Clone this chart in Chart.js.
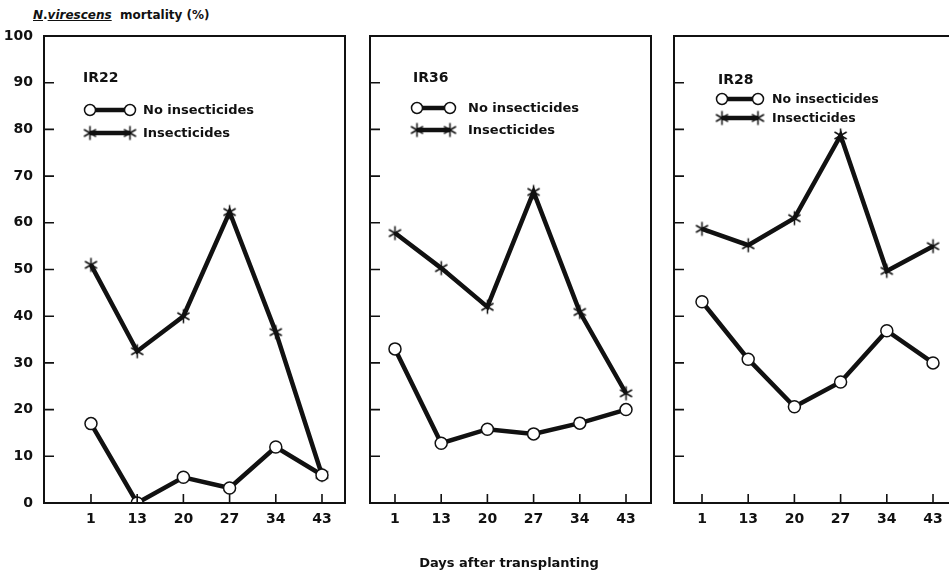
<!DOCTYPE html>
<html>
<head>
<meta charset="utf-8">
<script src="https://cdn.jsdelivr.net/npm/chart.js@4"></script>
<style>
  html, body { margin: 0; padding: 0; background: #fff; overflow: hidden; }
  #wrap { position: relative; width: 949px; height: 577px; font-family: "DejaVu Sans", sans-serif; color: #111; }
  canvas { position: absolute; top: 0; }
  .ytitle { position: absolute; left: 33px; top: 8px; font-size: 12px; font-weight: 700; }
  .xtitle { position: absolute; left: 0; width: 1018px; top: 555px; text-align: center; font-size: 13px; font-weight: 700; }
</style>
</head>
<body>
<div id="wrap">
  <div class="ytitle"><u><i>N</i></u>.<u><i>virescens</i></u>&nbsp; mortality (%)</div>
  <canvas id="c1" width="360" height="577" style="left:0px"></canvas>
  <canvas id="c2" width="300" height="577" style="left:360px"></canvas>
  <canvas id="c3" width="289" height="577" style="left:660px"></canvas>
  <div class="xtitle">Days after transplanting</div>
</div>
<script>
const days = ["1", "13", "20", "27", "34", "43"];
const varieties = ["IR22", "IR36", "IR28"];
const seriesNames = ["No insecticides", "Insecticides"];
const yTicks = [0, 10, 20, 30, 40, 50, 60, 70, 80, 90, 100];

const ir22None = [17, 0, 5.5, 3.2, 12, 6];
const ir22Ins = [51, 32.5, 40, 62.3, 36.6, 6];
const ir36None = [33, 12.8, 15.8, 14.8, 17.1, 20];
const ir36Ins = [57.8, 50.3, 42, 66.6, 40.9, 23.5];
const ir28None = [43.1, 30.8, 20.6, 25.9, 36.9, 30];
const ir28Ins = [58.7, 55.2, 61, 78.7, 49.7, 55];

const FONT = '"DejaVu Sans", sans-serif';
const INK = "#111";

// asterisk marker
function makeStar() {
  const s = 17, c = document.createElement("canvas");
  c.width = s; c.height = s;
  const g = c.getContext("2d");
  g.strokeStyle = INK; g.lineWidth = 1.5;
  const r = 7;
  g.beginPath();
  for (let k = 0; k < 3; k++) {
    const a = Math.PI / 2 + k * Math.PI / 3;
    g.moveTo(s / 2 + r * Math.cos(a), s / 2 + r * Math.sin(a));
    g.lineTo(s / 2 - r * Math.cos(a), s / 2 - r * Math.sin(a));
  }
  g.stroke();
  return c;
}
const star = makeStar();

const framePlugin = {
  id: "frame",
  afterDraw(chart, args, opts) {
    const { ctx, chartArea: a, scales } = chart;
    ctx.save();
    ctx.strokeStyle = INK;
    ctx.lineWidth = 2;
    ctx.beginPath();
    ctx.moveTo(opts.openRight ? a.right + 5 : a.right, a.top);
    ctx.lineTo(a.left, a.top);
    ctx.lineTo(a.left, a.bottom);
    ctx.lineTo(opts.openRight ? a.right + 5 : a.right, a.bottom);
    if (!opts.openRight) ctx.closePath();
    ctx.stroke();
    ctx.lineWidth = 1.6;
    ctx.beginPath();
    yTicks.forEach(v => {
      if (v === 0 || v === 100) return;
      const y = scales.y.getPixelForValue(v);
      ctx.moveTo(a.left, y); ctx.lineTo(a.left + 10, y);
    });
    days.forEach((d, i) => {
      const x = scales.x.getPixelForValue(i);
      ctx.moveTo(x, a.bottom); ctx.lineTo(x, a.bottom - 9);
    });
    ctx.stroke();

    // legend inside the panel
    const L = opts;
    ctx.fillStyle = INK;
    ctx.textBaseline = "middle";
    ctx.font = "700 14px " + FONT;
    ctx.fillText(L.name, L.x, L.nameY);
    ctx.font = "700 " + L.size + "px " + FONT;
    [0, 1].forEach(k => {
      const y = L.rowY[k];
      ctx.lineWidth = 4.5;
      ctx.beginPath();
      ctx.moveTo(L.sx1, y); ctx.lineTo(L.sx2, y);
      ctx.stroke();
      [L.sx1, L.sx2].forEach(x => {
        if (k === 0) {
          ctx.lineWidth = 1.5;
          ctx.fillStyle = "#fff";
          ctx.beginPath(); ctx.arc(x, y, 5.5, 0, Math.PI * 2); ctx.fill(); ctx.stroke();
        } else {
          ctx.drawImage(star, x - star.width / 2, y - star.height / 2);
        }
      });
      ctx.fillStyle = INK;
      ctx.fillText(seriesNames[k], L.tx, y + 1);
    });
    ctx.restore();
  }
};

function makePanel(id, none, ins, cfg) {
  const pts = arr => arr.map((v, i) => ({ x: i, y: v }));
  new Chart(document.getElementById(id), {
    type: "line",
    data: {
      datasets: [
        {
          label: seriesNames[0], data: pts(none),
          borderColor: INK, borderWidth: 4.5,
          pointRadius: 6, pointBackgroundColor: "#fff", pointBorderColor: INK, pointBorderWidth: 1.5
        },
        {
          label: seriesNames[1], data: pts(ins),
          borderColor: INK, borderWidth: 4.5,
          pointStyle: star, pointRadius: 8
        }
      ]
    },
    options: {
      responsive: false,
      animation: false,
      layout: { autoPadding: false, padding: { top: 36, left: cfg.padLeft, right: cfg.padRight, bottom: 0 } },
      plugins: {
        legend: { display: false },
        tooltip: { enabled: false },
        frame: cfg.legend
      },
      scales: {
        x: {
          type: "linear", min: cfg.xMin, max: cfg.xMax,
          grid: { display: false }, border: { display: false },
          afterBuildTicks: s => { s.ticks = days.map((d, i) => ({ value: i })); },
          afterFit: s => { s.height = 74; s.paddingLeft = 0; s.paddingRight = 0; },
          ticks: {
            padding: 0, color: INK, font: { family: FONT, size: 14, weight: "700" },
            maxRotation: 0, autoSkip: false,
            callback: v => days[v]
          }
        },
        y: {
          min: 0, max: 100, display: cfg.showY,
          grid: { display: false }, border: { display: false },
          afterBuildTicks: s => { s.ticks = yTicks.map(v => ({ value: v })); },
          afterFit: s => { s.width = cfg.showY ? 44 : 0; },
          ticks: { padding: 3, color: INK, font: { family: FONT, size: 14, weight: "700" } }
        }
      }
    },
    plugins: [framePlugin]
  });
}

makePanel("c1", ir22None, ir22Ins, {
  padLeft: 0, padRight: 15, showY: true, xMin: -1.017, xMax: 5.498,
  legend: { name: varieties[0], x: 83, nameY: 78, rowY: [110, 133], sx1: 90, sx2: 130, tx: 143, size: 13 }
});
makePanel("c2", ir36None, ir36Ins, {
  padLeft: 10, padRight: 9, showY: false, xMin: -0.541, xMax: 5.541,
  legend: { name: varieties[1], x: 53, nameY: 78, rowY: [108, 130], sx1: 57, sx2: 90, tx: 108, size: 13 }
});
makePanel("c3", ir28None, ir28Ins, {
  padLeft: 14, padRight: 0, showY: false, xMin: -0.606, xMax: 5.346,
  legend: { name: varieties[2], x: 58, nameY: 80, rowY: [99, 118], sx1: 62, sx2: 98, tx: 112, size: 12.5, openRight: true }
});
</script>
</body>
</html>
